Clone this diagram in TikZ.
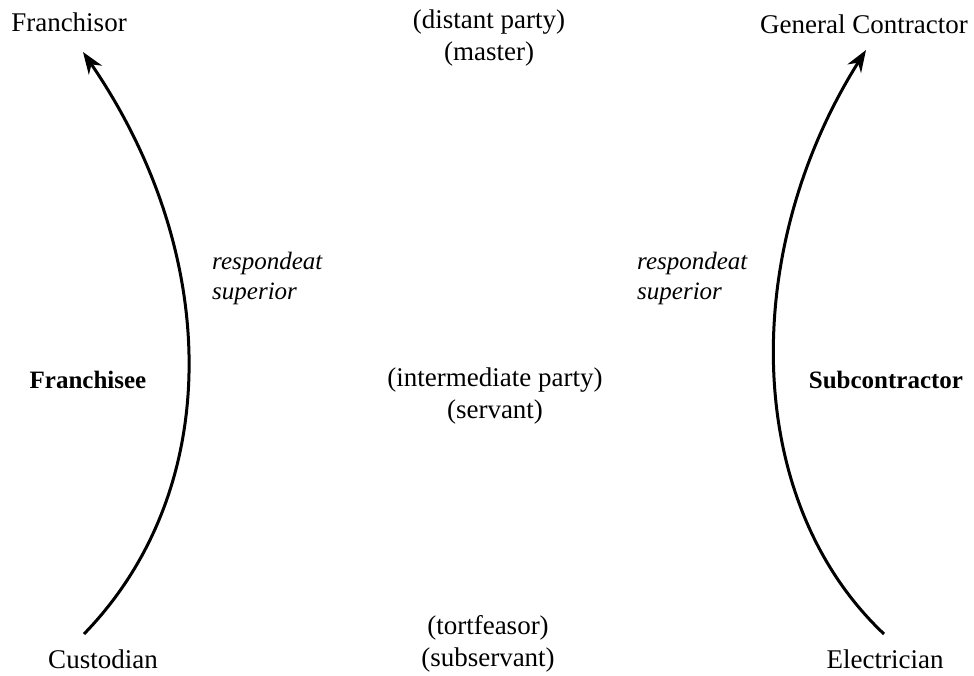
\documentclass[tikz,border=0pt]{standalone}
\usepackage{fontspec}
\setmainfont{Liberation Serif}
\usetikzlibrary{arrows.meta}
\begin{document}
\begin{tikzpicture}[x=1pt,y=-1pt,
  lbl/.style={inner sep=0pt, font=\fontsize{27}{32}\selectfont, align=center},
  mid/.style={lbl},
  bolded/.style={inner sep=0pt, font=\fontsize{25}{30}\selectfont\bfseries},
  latin/.style={inner sep=0pt, font=\fontsize{25}{30}\selectfont\itshape, align=left, anchor=north west},
  liability/.style={line width=3pt, -{Stealth[length=22pt,width=16pt,inset=7pt]}}]
\useasboundingbox (0,0) rectangle (974,676);
% top row: distant parties
\node[lbl] (franchisor) at (69,22) {Franchisor};
\node[mid] (distant) at (489,38) {(distant party)\\(master)};
\node[lbl] (gc) at (864,24) {General Contractor};
% middle row: intermediate parties
\node[bolded] (franchisee) at (88,380) {Franchisee};
\node[mid] (intermediate) at (495,396) {(intermediate party)\\(servant)};
\node[bolded] (sub) at (886,380) {Subcontractor};
% bottom row: tortfeasors
\node[lbl] (custodian) at (103,659) {Custodian};
\node[mid] (tort) at (488,644) {(tortfeasor)\\(subservant)};
\node[lbl] (electrician) at (885,659) {Electrician};
% doctrine labels
\node[latin] (rsl) at (212,252) {respondeat\\superior};
\node[latin] (rsr) at (637,252) {respondeat\\superior};
% arrow ends
\coordinate (l0) at (84,634);
\coordinate (l1) at (83,52);
\coordinate (r0) at (884,634);
\coordinate (r1) at (866,50);
% vicarious liability arcs
\draw[liability] (l0) .. controls (224,490) and (222,255) .. (l1);
\draw[liability] (r0) .. controls (742,500) and (740,250) .. (r1);
\end{tikzpicture}
\end{document}
